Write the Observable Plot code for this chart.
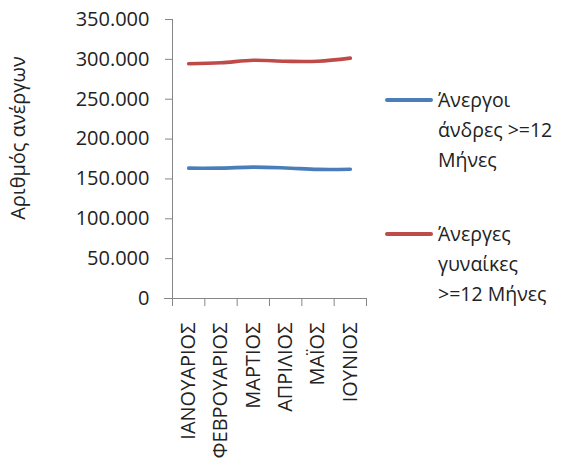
<!DOCTYPE html>
<html>
<head>
<meta charset="utf-8">
<script src="https://cdn.jsdelivr.net/npm/d3@7"></script>
<script src="https://cdn.jsdelivr.net/npm/@observablehq/plot@0.6"></script>
<style>
  body { margin: 0; background: #fff; }
  #wrap { position: relative; width: 564px; height: 467px; overflow: hidden; font-family: "Open Sans", sans-serif; color: #222; }
  #wrap svg { position: absolute; left: 0; top: 0; }
  .leg { position: absolute; left: 385px; font-size: 19.5px; line-height: 30px; }
  .leg .sw { position: absolute; left: 0; width: 48px; height: 4px; border-radius: 2px; }
  .leg .tx { position: absolute; left: 53px; white-space: nowrap; }
</style>
</head>
<body>
<div id="wrap"></div>
<script>
const months = ["ΙΑΝΟΥΑΡΙΟΣ", "ΦΕΒΡΟΥΑΡΙΟΣ", "ΜΑΡΤΙΟΣ", "ΑΠΡΙΛΙΟΣ", "ΜΑΪΟΣ", "ΙΟΥΝΙΟΣ"];
const men = [163500, 163600, 164800, 163800, 162000, 162100];
const women = [294500, 295800, 298800, 297600, 297700, 301500];
const seriesNames = ["Άνεργοι άνδρες >=12 Μήνες", "Άνεργες γυναίκες >=12 Μήνες"];
const legendLines = [["Άνεργοι", "άνδρες >=12", "Μήνες"], ["Άνεργες", "γυναίκες", ">=12 Μήνες"]];
const colors = ["#4a7ebb", "#be4b48"];
const yTicks = [0, 50000, 100000, 150000, 200000, 250000, 300000, 350000];
const yLabel = "Αριθμός ανέργων";

const data = [];
months.forEach((m, i) => {
  data.push({i, month: m, value: men[i], series: seriesNames[0]});
  data.push({i, month: m, value: women[i], series: seriesNames[1]});
});
const idx = months.map((_, i) => i);
const bounds = d3.range(months.length + 1).map(i => i - 0.5);
const fmt = d => d === 0 ? "0" : d3.format(",")(d).replace(/,/g, ".");

const chart = Plot.plot({
  width: 564,
  height: 467,
  marginLeft: 172,
  marginRight: 198,
  marginTop: 19,
  marginBottom: 169,
  style: {fontFamily: "Open Sans, sans-serif", color: "#222", background: "transparent"},
  x: {type: "linear", domain: [-0.5, months.length - 0.5]},
  y: {domain: [0, 350000]},
  color: {domain: seriesNames, range: colors},
  marks: [
    Plot.axisY({ticks: yTicks, tickFormat: fmt, tickSize: 7, tickPadding: 16, fontSize: 20, stroke: "#868686", label: null}),
    Plot.ruleX([-0.5], {stroke: "#868686"}),
    Plot.ruleY([0], {x1: -0.75, x2: months.length - 0.5, stroke: "#868686"}),
    Plot.axisX({ticks: bounds, tickFormat: () => "", tickSize: 8, stroke: "#868686", label: null}),
    Plot.axisX({ticks: idx, tickFormat: i => months[i], tickSize: 0, tickPadding: 24, tickRotate: -90, fontSize: 20, label: null}),
    Plot.lineY(data, {x: "i", y: "value", stroke: "series", strokeWidth: 3.6, curve: "catmull-rom", strokeLinecap: "round"}),
    Plot.text([yLabel], {frameAnchor: "left", textAnchor: "middle", dx: -154, dy: -21, rotate: -90, fontSize: 20, fill: "#222"})
  ]
});
const wrap = document.getElementById("wrap");
wrap.appendChild(chart);

const tops = [85, 219];
legendLines.forEach((lines, k) => {
  const d = document.createElement("div");
  d.className = "leg";
  d.style.top = tops[k] + "px";
  const sw = document.createElement("div");
  sw.className = "sw";
  sw.style.background = colors[k];
  sw.style.top = "13px";
  d.appendChild(sw);
  const t = document.createElement("div");
  t.className = "tx";
  t.innerHTML = lines.join("<br>");
  d.appendChild(t);
  wrap.appendChild(d);
});
</script>
</body>
</html>
